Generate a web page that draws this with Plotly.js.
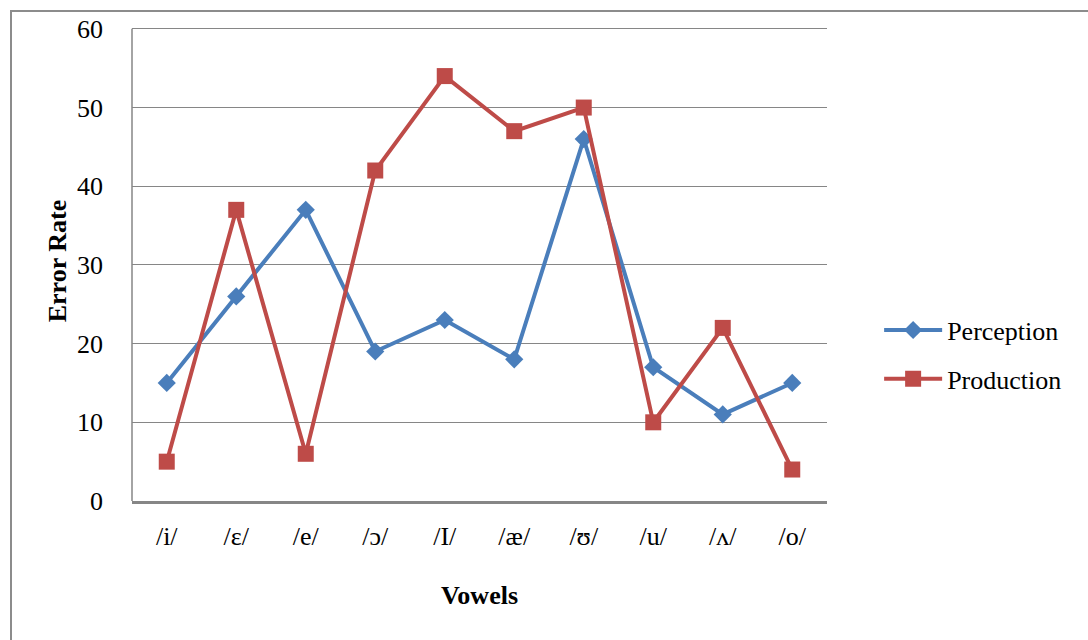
<!DOCTYPE html>
<html><head><meta charset="utf-8">
<script src="https://cdn.plot.ly/plotly-3.0.1.min.js"></script>
<style>
body{margin:0;background:#fff;}
#chart{width:1088px;height:640px;position:absolute;left:0;top:0;}
#frame{position:absolute;left:10px;top:10px;width:1100px;height:700px;border:2px solid #8c8c8c;box-sizing:border-box;pointer-events:none;}
</style></head>
<body>
<div id="chart"></div>
<div id="frame"></div>
<script>
const vowels = ['/i/','/ε/','/e/','/ɔ/','/I/','/æ/','/ʊ/','/u/','/ʌ/','/o/'];
const perception = [15,26,37,19,23,18,46,17,11,15];
const production = [5,37,6,42,54,47,50,10,22,4];
const yTicks = [0,10,20,30,40,50,60];

const font = 'Liberation Serif, DejaVu Serif, serif';
const data = [
 {x: vowels, y: perception, name: 'Perception', type: 'scatter', mode: 'lines+markers', legendgroup: 'a',
  line: {color: '#4A7EBB', width: 4}, marker: {symbol: 'diamond', size: 14, color: '#4A7EBB'}},
 {x: vowels, y: production, name: 'Production', type: 'scatter', mode: 'lines+markers', legendgroup: 'b',
  line: {color: '#BE4B48', width: 4}, marker: {symbol: 'square', size: 16, color: '#BE4B48'}}
];
const layout = {
 width: 1088, height: 640,
 margin: {l: 132, r: 261, t: 21, b: 139},
 paper_bgcolor: '#fff', plot_bgcolor: '#fff',
 font: {family: font, size: 26, color: '#000'},
 showlegend: true,
 legend: {x: 1.075, y: 0.305, xanchor: 'left', yanchor: 'middle', font: {family: font, size: 26},
   traceorder: 'grouped', tracegroupgap: 12, itemwidth: 58},
 xaxis: {type: 'category', range: [-0.5, 9.5], showgrid: false, zeroline: false,
   showline: true, linecolor: '#868686', linewidth: 2.5, ticks: '', ticklabelstandoff: 10,
   tickfont: {family: font, size: 26},
   title: {text: '<b>Vowels</b>', font: {family: font, size: 26}, standoff: 36}},
 yaxis: {range: [0, 61], tickvals: yTicks, showgrid: true, gridcolor: '#868686', gridwidth: 1,
   zeroline: false, showline: false, ticks: '',
   tickfont: {family: font, size: 26}, ticklabelstandoff: 28,
   title: {text: '<b>Error Rate</b>', font: {family: font, size: 26}, standoff: 2}},
 shapes: [{type: 'line', xref: 'paper', yref: 'y', x0: 0, x1: 0, y0: 0, y1: 60,
   line: {color: '#868686', width: 1.5}}]
};
Plotly.newPlot('chart', data, layout, {displayModeBar: false});
</script>
</body></html>
